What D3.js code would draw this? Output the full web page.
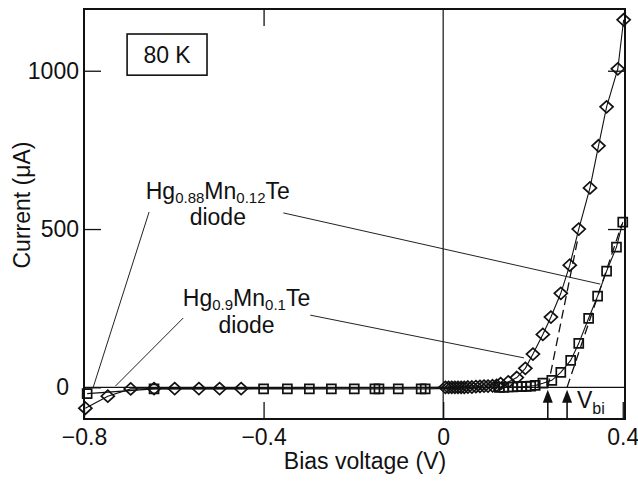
<!DOCTYPE html>
<html lang="en">
  <head>
    <meta charset="utf-8">
    <title>I-V curves, 80 K</title>
    <script src="https://d3js.org/d3.v7.min.js"></script>
    <style>
      body { margin: 0; background: #fff; }
      text { font-family: "Liberation Sans", Arial, Helvetica, sans-serif; fill: #111; }
    </style>
  </head>
  <body>
    <div id="chart"></div>
    <script type="text/javascript">
      // Hg0.88Mn0.12Te diode (diamonds)
      const voltsA = [-0.797, -0.747, -0.696, -0.644, -0.598, -0.544, -0.498, -0.45,
                      0.005, 0.012, 0.019, 0.026, 0.033, 0.040, 0.047, 0.055, 0.064, 0.073,
                      0.082, 0.091, 0.100, 0.110, 0.119, 0.128,
                      0.145, 0.164, 0.183, 0.200, 0.222, 0.240, 0.262, 0.282, 0.302, 0.327,
                      0.346, 0.364, 0.389, 0.402];
      const currentA = [-66, -28, -5, -4, -4, -4, -4, -4,
                        0, 0, 0, 0, 0, 0, 0, 1, 1, 2,
                        3, 4, 4, 5, 6, 12,
                        17, 31, 60, 105, 167, 222, 297, 386, 500, 630,
                        763, 886, 1006, 1161];

      // Hg0.9Mn0.1Te diode (squares)
      const voltsB = [-0.793, -0.644, -0.4, -0.347, -0.298, -0.249, -0.198, -0.152, -0.143,
                      -0.1, -0.049, -0.04,
                      0.125, 0.135, 0.145, 0.155, 0.165, 0.175, 0.185, 0.195, 0.205,
                      0.222, 0.242, 0.262, 0.284, 0.302, 0.324, 0.344, 0.364, 0.386, 0.4];
      const currentB = [-20, -5, -5, -5, -5, -5, -5, -5, -5,
                        -5, -5, -5,
                        0, 0, 1, 1, 2, 2, 3, 4, 6,
                        13, 22, 47, 85, 139, 218, 288, 367, 443, 522];

      const xTicks = [-0.8, -0.4, 0, 0.4];
      const yTicks = [0, 500, 1000];

      // built-in voltages and their linear extrapolations (V, µA)
      const vbi = [0.233, 0.276];
      const fitTops = [[0.300, 470], [0.398, 515]];

      // label leader lines, in data units
      const leaders = [
          [[-0.655, 554], [-0.780, -2]],
          [[-0.356, 551], [0.350, 326]],
          [[-0.579, 219], [-0.730, 4]],
          [[-0.296, 228], [0.180, 93]]
      ];

      function ivChart() {
          let svgWidth = 638,
              svgHeight = 484,
              fontSize = "23px";

          let svg = d3.select("#chart")
              .append("svg")
              .attr("width", svgWidth)
              .attr("height", svgHeight);

          let x = d3.scaleLinear()
              .domain([-0.8, 0.405])
              .range([84, 625]);

          let y = d3.scaleLinear()
              .domain([-100, 1195])
              .range([419, 9]);

          let fmt = d => d === 0 ? "0" : d3.format(".1f")(d);

          // axes, ticks pointing inward
          svg.append("g")
              .attr("transform", "translate(0," + y(-100) + ")")
              .call(d3.axisBottom(x).tickValues(xTicks).tickFormat(fmt)
                    .tickSizeInner(-17).tickSizeOuter(0).tickPadding(10));

          let left = svg.append("g")
              .attr("transform", "translate(" + x(-0.8) + ",0)")
              .call(d3.axisLeft(y).tickValues(yTicks).tickFormat(d3.format("d"))
                    .tickSizeInner(-17).tickSizeOuter(0).tickPadding(5));

          left.selectAll(".tick text").filter(d => d === 0).attr("dx", -10);

          svg.append("g")
              .attr("transform", "translate(0," + y(1195) + ")")
              .call(d3.axisTop(x).tickValues([-0.4]).tickFormat("")
                    .tickSizeInner(-17).tickSizeOuter(0));

          svg.append("g")
              .attr("transform", "translate(" + x(0.405) + ",0)")
              .call(d3.axisRight(y).tickValues([500, 1000]).tickFormat("")
                    .tickSizeInner(-17).tickSizeOuter(0));

          svg.selectAll(".domain").remove();
          svg.selectAll(".tick line").attr("stroke", "#111").attr("stroke-width", 1.3);
          svg.selectAll(".tick text")
              .attr("fill", "#111")
              .style("font-size", fontSize)
              .style("font-family", "'Liberation Sans', Arial, sans-serif");

          // frame
          svg.append("rect")
              .attr("x", x(-0.8))
              .attr("y", y(1195))
              .attr("width", x(0.405) - x(-0.8))
              .attr("height", y(-100) - y(1195))
              .attr("fill", "none")
              .attr("stroke", "#111")
              .attr("stroke-width", 2);

          // zero lines
          svg.append("line")
              .attr("x1", x(0)).attr("x2", x(0))
              .attr("y1", y(1195)).attr("y2", y(-100))
              .attr("stroke", "#111").attr("stroke-width", 1.2);

          svg.append("line")
              .attr("x1", x(-0.8)).attr("x2", x(0.405))
              .attr("y1", y(0)).attr("y2", y(0))
              .attr("stroke", "#111").attr("stroke-width", 1.2);

          // axis titles
          svg.append("text")
              .attr("x", 365)
              .attr("y", 469)
              .attr("text-anchor", "middle")
              .style("font-size", fontSize)
              .text("Bias voltage (V)");

          svg.append("text")
              .attr("transform", "translate(30,205) rotate(-90)")
              .attr("text-anchor", "middle")
              .style("font-size", fontSize)
              .text("Current (μA)");

          // leader lines
          svg.selectAll("line.leader")
              .data(leaders)
              .join("line")
              .attr("class", "leader")
              .attr("x1", d => x(d[0][0])).attr("y1", d => y(d[0][1]))
              .attr("x2", d => x(d[1][0])).attr("y2", d => y(d[1][1]))
              .attr("stroke", "#222").attr("stroke-width", 1);

          // extrapolation lines to V_bi
          svg.selectAll("line.fit")
              .data(vbi)
              .join("line")
              .attr("class", "fit")
              .attr("x1", d => x(d)).attr("y1", y(0))
              .attr("x2", (d, i) => x(fitTops[i][0])).attr("y2", (d, i) => y(fitTops[i][1]))
              .attr("stroke", "#111").attr("stroke-width", 1.3)
              .attr("stroke-dasharray", "9,5");

          // series
          let seriesA = voltsA.map((v, i) => [v, currentA[i]]),
              seriesB = voltsB.map((v, i) => [v, currentB[i]]);

          let line = d3.line().x(d => x(d[0])).y(d => y(d[1]));

          [seriesB, seriesA].forEach(s => {
              svg.append("path")
                  .datum(s)
                  .attr("d", line)
                  .attr("fill", "none")
                  .attr("stroke", "#111")
                  .attr("stroke-width", 1.1);
          });

          svg.selectAll("path.square")
              .data(seriesB)
              .join("path")
              .attr("class", "square")
              .attr("transform", d => "translate(" + x(d[0]) + "," + y(d[1]) + ")")
              .attr("d", "M-4.5,-4.5H4.5V4.5H-4.5Z")
              .attr("fill", "none")
              .attr("stroke", "#111")
              .attr("stroke-width", 1.7);

          svg.selectAll("path.diamond")
              .data(seriesA)
              .join("path")
              .attr("class", "diamond")
              .attr("transform", d => "translate(" + x(d[0]) + "," + y(d[1]) + ")")
              .attr("d", "M0,-6L6.5,0L0,6L-6.5,0Z")
              .attr("fill", "none")
              .attr("stroke", "#111")
              .attr("stroke-width", 1.7);

          // V_bi arrows
          let arrows = svg.selectAll("g.arrow")
              .data(vbi)
              .join("g")
              .attr("class", "arrow")
              .attr("transform", d => "translate(" + x(d) + "," + y(-8) + ")");

          arrows.append("line")
              .attr("x1", 0).attr("x2", 0)
              .attr("y1", 8).attr("y2", y(-100) - y(-8))
              .attr("stroke", "#111").attr("stroke-width", 1.6);

          arrows.append("path")
              .attr("d", "M0,0L5,13L-5,13Z")
              .attr("fill", "#111");

          let vb = svg.append("text")
              .attr("x", x(0.298))
              .attr("y", y(-65))
              .style("font-size", fontSize);
          vb.append("tspan").text("V");
          vb.append("tspan").attr("dy", 6).style("font-size", "16px").text("bi");

          // 80 K box
          svg.append("rect")
              .attr("x", x(-0.704))
              .attr("y", y(1116))
              .attr("width", x(-0.526) - x(-0.704))
              .attr("height", y(986) - y(1116))
              .attr("fill", "#fff")
              .attr("stroke", "#111")
              .attr("stroke-width", 1.6);

          svg.append("text")
              .attr("x", x(-0.615))
              .attr("y", y(1024))
              .attr("text-anchor", "middle")
              .style("font-size", fontSize)
              .text("80 K");

          // series labels
          function formula(cx, cy, parts) {
              let t = svg.append("text")
                  .attr("x", x(cx))
                  .attr("y", y(cy))
                  .attr("text-anchor", "middle")
                  .style("font-size", fontSize);
              parts.forEach(p => {
                  if (p.sub) {
                      t.append("tspan").attr("dy", 4).style("font-size", "15px").text(p.sub);
                  } else {
                      t.append("tspan").attr("dy", p.first ? 0 : -4).text(p.txt);
                  }
              });
          }

          formula(-0.502, 594, [{txt: "Hg", first: true}, {sub: "0.88"}, {txt: "Mn"}, {sub: "0.12"}, {txt: "Te"}]);
          formula(-0.502, 512, [{txt: "diode", first: true}]);
          formula(-0.438, 256, [{txt: "Hg", first: true}, {sub: "0.9"}, {txt: "Mn"}, {sub: "0.1"}, {txt: "Te"}]);
          formula(-0.438, 172, [{txt: "diode", first: true}]);
      }

      ivChart();
    </script>
  </body>
</html>
